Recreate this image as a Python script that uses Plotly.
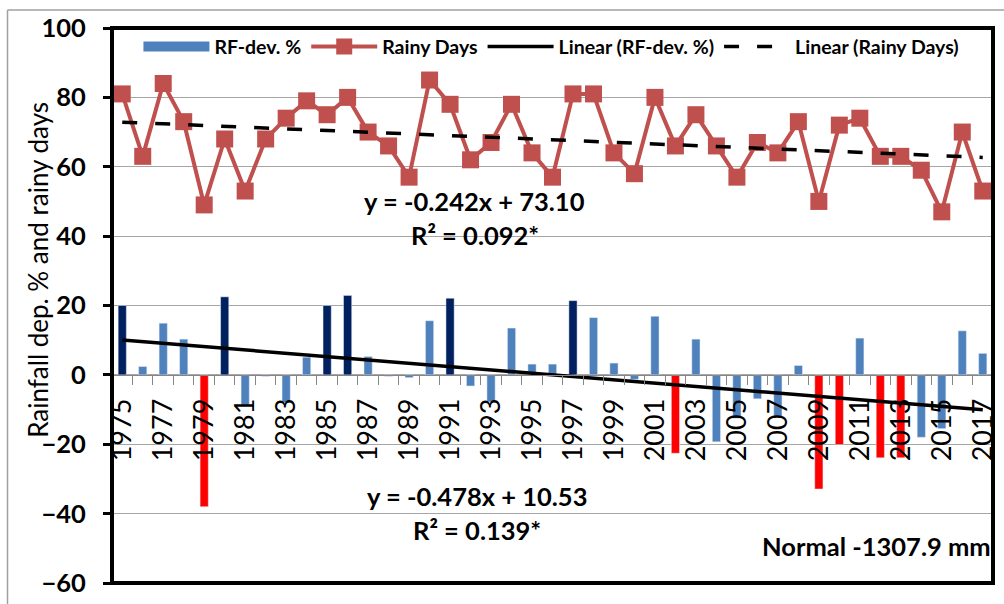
import plotly.graph_objects as go

years = list(range(1975, 2018))

rf_dev = [20.0, 2.4, 14.9, 10.3, -38.0, 22.5, -9.0, -0.4, -8.0, 5.1,
          20.0, 22.9, 5.3, -0.4, -0.8, 15.6, 22.1, -3.2, -7.8, 13.5,
          3.1, 3.1, 21.4, 16.5, 3.4, -1.3, 16.9, -22.6, 10.3, -19.3,
          -12.5, -6.9, -12.0, 2.7, -32.9, -20.1, 10.6, -23.9, -23.9, -18.0,
          -15.5, 12.7, 6.2]

rainy_days = [81, 63, 84, 73, 49, 68, 53, 68, 74, 79,
              75, 80, 70, 66, 57, 85, 78, 62, 67, 78,
              64, 57, 81, 81, 64, 58, 80, 66, 75, 66,
              57, 67, 64, 73, 50, 72, 74, 63, 63, 59,
              47, 70, 53]

# trend equations printed on the chart (x = 1..n)
rf_trend = (-0.478, 10.53)
rd_trend = (-0.242, 73.10)

excess_limit = 19.5
deficit_limit = -19.5

BLUE = "#4F81BD"
NAVY = "#002060"
RED = "#FF0000"
BRICK = "#C0504D"
FONT = "Lato"

n = len(years)
idx_first, idx_last = 1, n
trend_x = [years[0], years[-1]]
rf_trend_y = [rf_trend[0] * idx_first + rf_trend[1], rf_trend[0] * idx_last + rf_trend[1]]
rd_trend_y = [rd_trend[0] * idx_first + rd_trend[1], rd_trend[0] * idx_last + rd_trend[1]]

normal_x = [y for y, v in zip(years, rf_dev) if deficit_limit < v < excess_limit]
normal_v = [v for v in rf_dev if deficit_limit < v < excess_limit]
exc_x = [y for y, v in zip(years, rf_dev) if v >= excess_limit]
exc_v = [v for v in rf_dev if v >= excess_limit]
def_x = [y for y, v in zip(years, rf_dev) if v <= deficit_limit]
def_v = [v for v in rf_dev if v <= deficit_limit]

fig = go.Figure()
# legend entry for the bar series (wide swatch as in the original)
fig.add_trace(go.Scatter(x=[None], y=[None], mode="lines", name="RF-dev. %",
                         line=dict(color=BLUE, width=10), showlegend=True))
fig.add_trace(go.Bar(x=normal_x, y=normal_v, marker_color=BLUE, width=0.4,
                     showlegend=False, name="RF-dev. %"))
fig.add_trace(go.Bar(x=exc_x, y=exc_v, marker_color=NAVY, width=0.4,
                     showlegend=False, name="RF-dev. %"))
fig.add_trace(go.Bar(x=def_x, y=def_v, marker_color=RED, width=0.4,
                     showlegend=False, name="RF-dev. %"))
fig.add_trace(go.Scatter(x=years, y=rainy_days, mode="lines+markers", name="Rainy Days",
                         line=dict(color=BRICK, width=4),
                         marker=dict(symbol="square", size=17, color=BRICK)))
fig.add_trace(go.Scatter(x=trend_x, y=rf_trend_y, mode="lines", name="Linear (RF-dev. %)",
                         line=dict(color="black", width=3.5)))
fig.add_trace(go.Scatter(x=trend_x, y=rd_trend_y, mode="lines", name="Linear (Rainy Days)",
                         line=dict(color="black", width=3.5, dash="15px,18px")))

label_years = years[::2]

fig.update_layout(
    width=1004, height=604,
    margin=dict(l=112, r=7, t=28, b=20),
    paper_bgcolor="white", plot_bgcolor="white",
    barmode="overlay",
    font=dict(family=FONT, color="black"),
    showlegend=True,
    legend=dict(orientation="h", x=0.03, y=0.966, xanchor="left", yanchor="middle",
                font=dict(family=FONT, size=19.5, color="black", weight="bold"),
                itemwidth=66, bgcolor="rgba(0,0,0,0)", traceorder="normal"),
    xaxis=dict(range=[1974.5, 2017.5], anchor="free", position=0.375,
               showline=True, linecolor="#868686", linewidth=1,
               tickmode="array", tickvals=label_years, ticktext=[str(y) for y in label_years],
               tickangle=-90, ticks="", showgrid=False, zeroline=False,
               tickfont=dict(family=FONT, size=27, color="black"),
               ticklabelstandoff=12,
               minor=dict(tick0=1974.5, dtick=1, ticks="outside", ticklen=9,
                          tickcolor="#868686", tickwidth=1, showgrid=False)),
    yaxis=dict(range=[-60, 100], dtick=20, anchor="free", position=0,
               showline=True, linecolor="black", linewidth=4,
               ticks="outside", ticklen=7, tickwidth=3, tickcolor="black",
               showgrid=True, gridcolor="#A6A6A6", gridwidth=1, zeroline=False,
               tickfont=dict(family=FONT, size=25.5, color="black", weight="bold"),
               ticklabelstandoff=12),
)

fig.add_shape(type="rect", xref="paper", yref="paper", x0=0, x1=1, y0=0, y1=1,
              line=dict(color="black", width=4), layer="above")
# outer chart border
fig.add_shape(type="line", xref="paper", yref="paper", x0=-0.1186, x1=1.1, y0=1.0324, y1=1.0324,
              line=dict(color="#A0A0A0", width=1.5))
fig.add_shape(type="line", xref="paper", yref="paper", x0=-0.1186, x1=-0.1186, y0=-0.1, y1=1.0324,
              line=dict(color="#A0A0A0", width=1.5))

ann_font = dict(family=FONT, size=25.5, color="black", weight="bold")
fig.add_annotation(x=1992.2, y=50.0, xref="x", yref="y", text="y = -0.242x + 73.10",
                   showarrow=False, font=ann_font)
fig.add_annotation(x=1992.2, y=40.2, xref="x", yref="y", text="R² = 0.092*",
                   showarrow=False, font=ann_font)
fig.add_annotation(x=1992.3, y=-35.0, xref="x", yref="y", text="y = -0.478x + 10.53",
                   showarrow=False, font=ann_font)
fig.add_annotation(x=1992.3, y=-44.7, xref="x", yref="y", text="R² = 0.139*",
                   showarrow=False, font=ann_font)
fig.add_annotation(x=1.0, y=-49.4, xref="paper", yref="y", xanchor="right",
                   text="Normal -1307.9 mm", showarrow=False, font=ann_font)
fig.add_annotation(x=-0.0836, y=0.565, xref="paper", yref="paper", textangle=-90,
                   xanchor="center", yanchor="middle",
                   text="Rainfall dep. % and rainy days", showarrow=False,
                   font=dict(family=FONT, size=26, color="black"))

fig.write_html("out.html", post_script="document.body.style.margin='0';",
               config={"displayModeBar": False})
